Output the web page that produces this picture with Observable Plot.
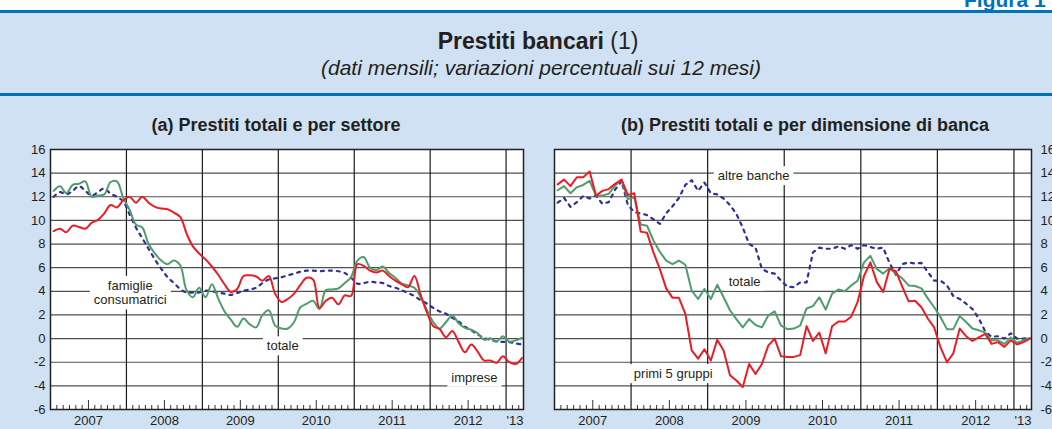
<!DOCTYPE html>
<html><head><meta charset="utf-8">
<script src="https://cdn.jsdelivr.net/npm/d3@7"></script>
<script src="https://cdn.jsdelivr.net/npm/@observablehq/plot@0.6"></script>
<style>
body{margin:0;width:1052px;height:429px;overflow:hidden;position:relative;background:#cfe1f2;font-family:"Liberation Sans",Arial,sans-serif;color:#231f20;}
.abs{position:absolute;white-space:nowrap;}
</style></head><body>
<div class="abs" style="left:0;top:0;width:1052px;height:10px;background:#fff"></div>
<div class="abs" style="left:964px;top:-11px;font-size:21px;line-height:21px;font-weight:bold;color:#0072bc">Figura 1</div>
<div class="abs" style="left:0;top:10px;width:1052px;height:3px;background:#0072bc"></div>
<div class="abs" style="left:0;top:93px;width:1052px;height:3px;background:#0072bc"></div>
<div class="abs" style="left:0;width:1076px;top:30px;text-align:center;font-size:23px;line-height:23px"><b>Prestiti bancari</b> (1)</div>
<div class="abs" style="left:0;width:1082px;top:57px;text-align:center;font-size:21px;line-height:21px;font-style:italic">(dati mensili; variazioni percentuali sui 12 mesi)</div>
<div class="abs" style="left:0;width:552px;top:116px;text-align:center;font-size:18px;line-height:18px;font-weight:bold">(a) Prestiti totali e per settore</div>
<div class="abs" style="left:540px;width:530px;top:116px;text-align:center;font-size:18px;line-height:18px;font-weight:bold">(b) Prestiti totali e per dimensione di banca</div>
<div id="pa" class="abs" style="left:0;top:140px"></div>
<div id="pb" class="abs" style="left:540px;top:140px"></div>
<script>
// Monthly data, Jan 2007 - Mar 2013 (75 months)
const totaleA = [12.5,12.9,12.3,13.0,13.1,13.3,12.0,12.1,12.2,13.25,13.3,11.9,10.9,9.65,9.4,8.0,7.2,6.6,6.3,6.6,6.2,4.1,3.5,4.3,3.5,4.6,3.4,2.3,1.6,1.0,1.7,1.2,0.95,2.0,2.4,1.1,0.85,0.85,
  1.4,2.65,2.95,3.2,2.5,4.1,4.15,4.25,4.7,5.2,6.6,6.9,6.0,5.8,6.1,5.55,5.15,4.65,4.5,4.3,3.5,2.4,1.4,0.85,1.4,1.95,1.3,0.9,0.75,0.45,-0.1,0.03,-0.25,0.2,-0.25,-0.15,0.05];
const impreseA = [9.1,9.3,9.0,9.55,9.45,9.3,9.8,10.05,10.6,11.3,11.1,11.7,12.0,11.5,12.0,11.5,11.15,11.0,10.95,10.65,10.3,8.9,7.8,7.2,6.7,6.1,5.4,4.6,3.95,4.2,5.3,5.35,5.25,4.9,5.3,3.8,3.1,3.35,
  3.8,4.55,5.15,5.0,2.6,3.2,3.45,2.9,3.65,3.6,6.3,6.15,5.75,5.6,5.75,5.3,4.9,4.6,4.35,5.3,3.7,2.2,1.05,0.8,0.12,0.65,-0.3,-1.15,-0.5,-1.1,-1.85,-1.85,-2.05,-1.5,-2.0,-2.15,-1.65];
const famiglieA = [12.0,12.4,12.2,12.5,12.9,12.5,12.1,12.4,12.7,12.25,12.0,11.6,10.5,9.4,8.5,7.6,6.7,5.9,5.2,4.7,4.2,3.9,3.9,3.9,4.05,4.0,3.9,3.8,3.7,3.85,4.05,4.15,4.3,4.7,5.0,5.1,5.2,5.35,
  5.5,5.65,5.75,5.75,5.7,5.75,5.75,5.7,5.55,5.15,4.65,4.7,4.8,4.75,4.7,4.45,4.3,4.1,3.85,3.6,3.25,2.95,2.6,2.3,2.1,1.75,1.45,1.0,0.7,0.35,0.05,-0.1,-0.25,-0.28,-0.3,-0.4,-0.5];
const primi5B = [13.05,13.45,12.9,13.65,13.65,14.15,12.1,12.5,12.65,13.1,13.45,12.15,12.3,9.05,8.95,7.3,5.9,4.25,3.45,3.45,2.1,-1.0,-1.7,-0.9,-1.85,-0.1,-1.0,-3.1,-3.55,-4.1,-2.15,-3.0,-2.15,-0.6,0.0,-1.5,-1.55,
  -1.55,-1.4,1.05,-0.2,0.5,-1.25,1.05,1.45,1.45,1.85,3.1,5.3,6.45,4.8,3.95,5.9,5.7,4.4,3.15,3.2,2.65,1.7,0.95,-0.75,-2.0,-1.25,0.85,0.2,-0.2,0.1,0.4,-0.45,-0.3,-0.7,-0.15,-0.5,-0.3,0.0];
const totaleB = [12.55,12.9,12.3,12.8,13.0,13.35,12.1,12.1,12.25,12.95,13.45,11.8,11.95,9.65,9.55,8.3,7.35,6.6,6.3,6.6,6.25,4.05,3.35,4.2,3.35,4.55,3.5,2.4,1.65,0.95,1.65,1.15,0.95,1.95,2.3,1.1,0.8,
  0.85,1.1,2.55,2.75,3.5,2.45,3.8,4.15,4.0,4.5,4.9,6.45,7.0,5.9,5.5,5.95,5.5,5.1,4.5,4.45,4.25,3.4,2.65,1.8,0.8,0.8,1.9,1.4,0.85,0.7,0.5,-0.15,-0.15,-0.45,0.1,-0.35,-0.15,0.05];
const altreB = [11.5,11.9,11.15,11.55,12.05,11.85,12.1,11.4,11.55,12.6,13.35,11.3,10.7,10.6,10.45,10.1,9.7,10.6,11.2,11.9,13.0,13.4,12.5,13.2,12.3,12.2,11.85,11.3,10.55,9.4,8.0,7.7,5.9,5.6,5.5,4.9,4.4,
  4.35,4.75,4.75,7.3,7.7,7.6,7.6,7.8,7.6,7.9,7.6,7.9,7.75,7.6,7.7,6.4,5.4,6.3,6.45,6.35,6.4,5.65,4.9,4.9,4.5,3.6,3.35,2.95,2.5,1.7,0.6,0.15,0.2,0.0,0.45,0.0,0.0,0.05];

const yTicks = [-6,-4,-2,0,2,4,6,8,10,12,14,16];
const gridY = [-4,-2,0,2,4,6,8,10,12,14];
const yearLines = [12,24,36,48,60,72];
const yearPos = [6,18,30,42,54,66,73.4];
const yearLabels = ["2007","2008","2009","2010","2011","2012","'13"];
const monthTicks = d3.range(1,75).filter(m => m % 12 !== 0 && m % 12 !== 6);
const midYearTicks = [6,18,30,42,54,66];

const labelsA = [
  {m:12.6, v:3.9, t:"famiglie\nconsumatrici"},
  {m:36.7, v:-0.6, t:"totale"},
  {m:67.0, v:-3.26, t:"imprese"}
];
const labelsB = [
  {m:31.2, v:13.8, t:"altre banche"},
  {m:29.8, v:4.86, t:"totale"},
  {m:18.6, v:-2.95, t:"primi 5 gruppi"}
];

const GREEN = "#4f9c6c", RED = "#ec1c24", BLUE = "#2e3192";
const yearMap = new Map(yearPos.map((p,i)=>[p, yearLabels[i]]));
const mx = (d,i) => i + 0.5;

function makePanel(series, labels, opts) {
  const svg = Plot.plot({
    width: opts.width, height: 289,
    marginLeft: opts.ml, marginRight: opts.mr, marginTop: 9, marginBottom: 20,
    style: {fontFamily: "'Liberation Sans', Arial, sans-serif", background: "transparent", color: "#231f20"},
    x: {domain: [0, 74.75]},
    y: {domain: [-6, 16]},
    marks: [
      Plot.frame({fill: "white"}),
      Plot.ruleY(gridY, {stroke: "#505050", strokeWidth: 1.2}),
      Plot.ruleX(yearLines, {stroke: "#1a1a1a", strokeWidth: 1.2}),
      Plot.ruleX(monthTicks, {x: d => d, y1: -6, y2: -6, insetTop: -4, stroke: "#333"}),
      Plot.ruleX(midYearTicks, {x: d => d, y1: -6, y2: -6, insetTop: -9, stroke: "#333"}),
      Plot.text(labels, {x: "m", y: "v", text: "t", fontSize: 13, fill: "#231f20", lineHeight: 1.12}),
      ...series.map(s => Plot.line(s.values, {x: mx, y: d => d, stroke: s.color, strokeWidth: s.dash ? 2.2 : 2,
          strokeDasharray: s.dash ? "3,5" : null, curve: opts.curve})),
      Plot.frame({stroke: "#222", strokeWidth: 1.5}),
      Plot.axisY(yTicks, {anchor: opts.yAnchor, tickSize: 0, tickPadding: opts.yPad, fontSize: 13, label: null, fill: "#231f20",
          tickFormat: d => String(d)}),
      Plot.axisX(yearPos, {anchor: "bottom", tickSize: 0, tickPadding: 6, fontSize: 13, label: null, fill: "#231f20",
          tickFormat: d => yearMap.get(d)})
    ]
  });
  svg.style.overflow = "visible";
  document.getElementById(opts.id).appendChild(svg);
  // white boxes behind in-chart labels
  svg.querySelectorAll('g[aria-label="text"] text').forEach(t => {
    const b = t.getBBox();
    const r = document.createElementNS("http://www.w3.org/2000/svg", "rect");
    r.setAttribute("x", b.x - 4); r.setAttribute("y", b.y - 2);
    r.setAttribute("width", b.width + 8); r.setAttribute("height", b.height + 4);
    r.setAttribute("fill", "white");
    if (t.getAttribute("transform")) r.setAttribute("transform", t.getAttribute("transform"));
    t.parentNode.insertBefore(r, t);
  });
}

makePanel([
  {values: famiglieA, color: BLUE, dash: true},
  {values: totaleA, color: GREEN},
  {values: impreseA, color: RED}
], labelsA, {id: "pa", width: 540, ml: 50, mr: 17, yAnchor: "left", yPad: 5, curve: "catmull-rom"});

makePanel([
  {values: altreB, color: BLUE, dash: true},
  {values: totaleB, color: GREEN},
  {values: primi5B, color: RED}
], labelsB, {id: "pb", width: 512, ml: 14, mr: 21, yAnchor: "right", yPad: 9, curve: "linear"});
</script>
</body></html>
